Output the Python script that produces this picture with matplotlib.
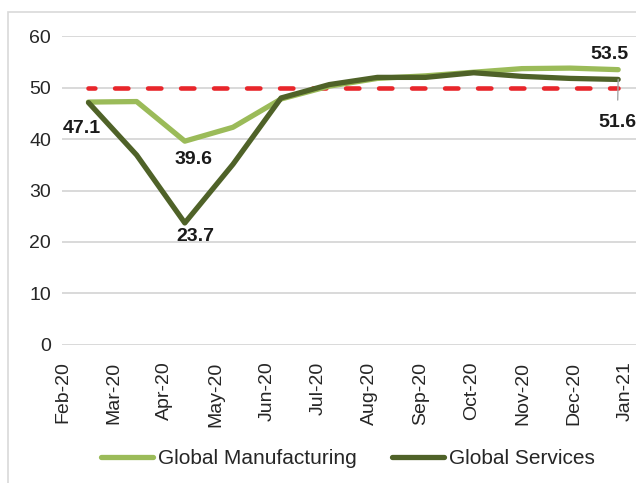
import matplotlib
matplotlib.use("Agg")
import matplotlib.pyplot as plt
from matplotlib.patches import Rectangle
import numpy as np

# Monthly PMI readings
months = ['Feb-20', 'Mar-20', 'Apr-20', 'May-20', 'Jun-20', 'Jul-20',
          'Aug-20', 'Sep-20', 'Oct-20', 'Nov-20', 'Dec-20', 'Jan-21']
manufacturing = [47.2, 47.3, 39.6, 42.3, 47.8, 50.3, 51.8, 52.3, 53.0, 53.7, 53.8, 53.5]
services = [47.1, 36.9, 23.7, 35.1, 48.0, 50.6, 52.0, 52.0, 52.9, 52.2, 51.8, 51.6]
threshold = [50] * len(months)

plt.rcParams['font.family'] = ['Liberation Sans', 'DejaVu Sans']

fig = plt.figure(figsize=(6.36, 4.83), dpi=100)
ax = fig.add_axes([0.0975, 0.286, 0.9025, 0.639])

# light border around the chart area
fig.patches.append(Rectangle((8 / 636, -0.1), 1.2, 1 - 12 / 483 + 0.1,
                             transform=fig.transFigure, fill=False,
                             edgecolor='#D9D9D9', lw=1.2))

x = np.arange(len(months))
c_man = '#9BBB59'
c_ser = '#4F6228'

ax.plot(x, threshold, color='#E8262B', lw=3.3,
        linestyle=(1.4, (2.9, 4.3)), dash_capstyle='round', zorder=3)
ax.plot(x, manufacturing, color=c_man, lw=3.8, solid_capstyle='round',
        solid_joinstyle='round', label='Global Manufacturing', zorder=4)
ax.plot(x, services, color=c_ser, lw=3.8, solid_capstyle='round',
        solid_joinstyle='round', label='Global Services', zorder=5)

ax.set_ylim(0, 60)
ax.set_yticks(range(0, 61, 10))
ax.set_xlim(-0.55, 11.37)

# axis labels are spaced a little wider than the monthly points
tick_pos = -0.54 + 1.062 * np.arange(len(months))
ax.set_xticks(tick_pos)
ax.set_xticklabels(months, rotation=90)

ax.grid(axis='y', color='#D9D9D9', lw=1.4)
ax.set_axisbelow(True)
for s in ax.spines.values():
    s.set_visible(False)
ax.tick_params(axis='both', length=0, labelsize=14, labelcolor='#262626')
ax.tick_params(axis='y', pad=8)
ax.tick_params(axis='x', pad=12)

lab = dict(fontsize=14, fontweight='bold', color='#1A1A1A',
           family=['Liberation Sans Narrow', 'Liberation Sans'],
           ha='center', va='center', textcoords='offset pixels', zorder=6)
ax.annotate('47.1', (0, services[0]), xytext=(-7, -26), **lab)
ax.annotate('39.6', (2, manufacturing[2]), xytext=(9, -18), **lab)
ax.annotate('23.7', (2, services[2]), xytext=(11, -14), **lab)
ax.annotate('53.5', (11, manufacturing[11]), xytext=(-9, 15), **lab)
ax.annotate('51.6', (11, services[11]), xytext=(-1, -43),
            arrowprops=dict(arrowstyle='-', color='#A6A6A6', lw=1,
                            shrinkA=8, shrinkB=0), **lab)

fig.legend(loc='center', bbox_to_anchor=(0.547, 0.05), ncol=2, frameon=False,
           fontsize=15, handlelength=2.5, handletextpad=0.25,
           columnspacing=1.7, labelcolor='#262626')

fig.savefig('out.png', dpi=100)
